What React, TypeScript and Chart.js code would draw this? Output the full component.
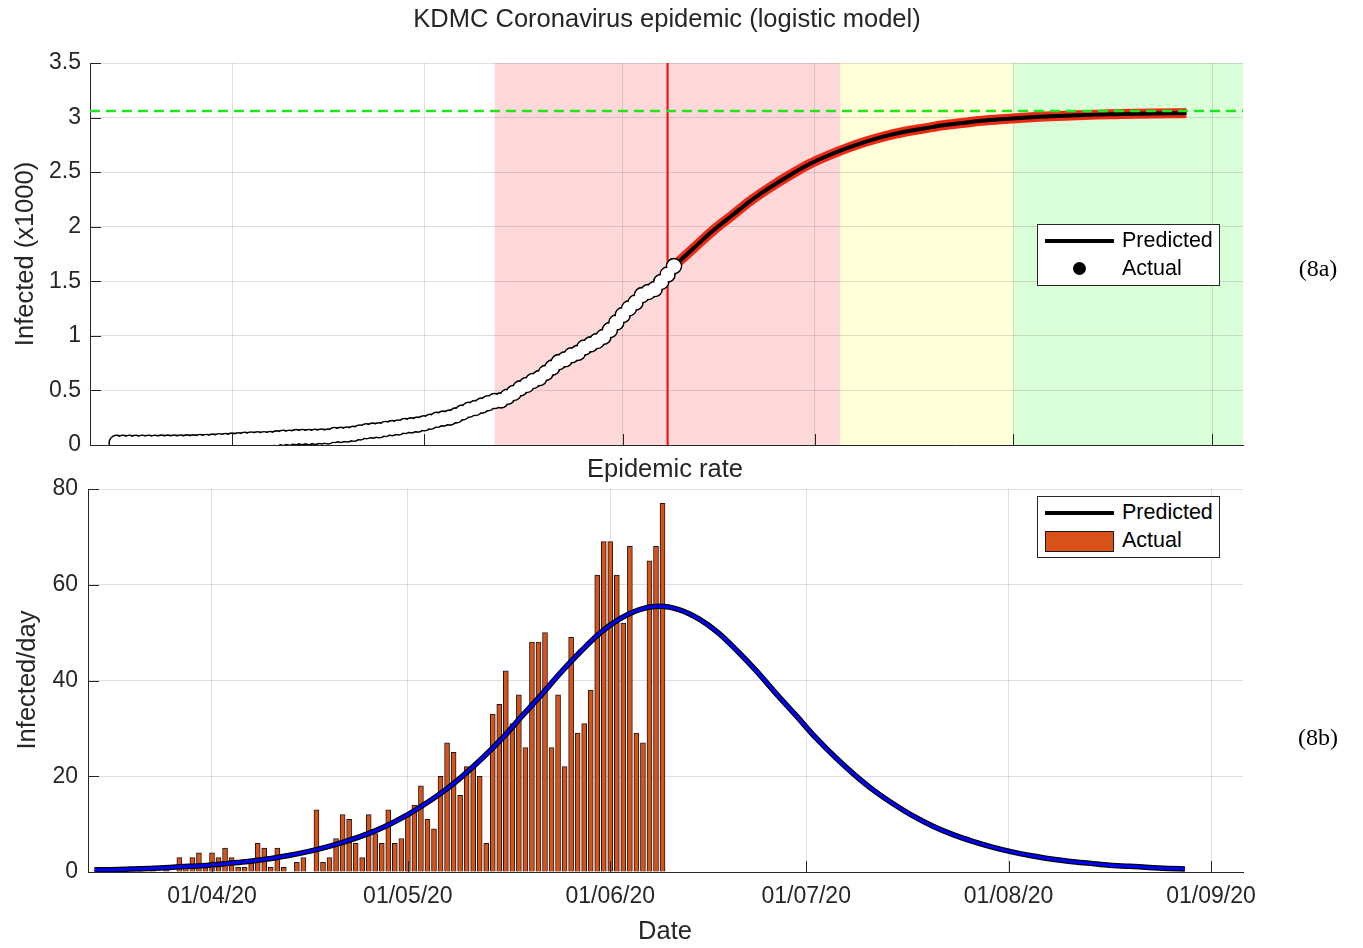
import React, { useEffect, useRef } from "react";
import { Chart, registerables } from "chart.js";

Chart.register(...registerables);

// Day numbers: days since 1 March 2020 (31 = 01/04/20)
const firstDataDay = 13; // 14 March 2020

// Daily new infections (bars), one per day from firstDataDay
const dailyCases = [
  0, 0, 0, 0, 1, 0, 0, 1, 0, 1, 0, 1, 0,
  3, 1, 3, 4, 1, 4, 3, 5, 3, 1, 1, 2, 6, 5, 1, 5, 1, 0, 2, 3, 0,
  13, 2, 3, 7, 12, 11, 6, 3, 12, 8, 6, 13,
  6, 7, 12, 14, 18, 11, 9, 20, 27, 25, 16, 22, 22, 20, 6, 33, 35, 42, 31, 37,
  26, 48, 48, 50, 26, 37, 22, 49, 29, 31, 38, 62, 69, 69, 62, 52, 68, 29, 27, 65, 68, 77,
];

// Cumulative infected (persons), one per day from firstDataDay
const cumulativeCases = [
  20, 20, 20, 20, 21, 21, 21, 22, 22, 23, 23, 24, 24,
  27, 28, 31, 35, 36, 40, 43, 48, 51, 52, 53, 55, 61, 66, 67, 72, 73, 73, 75, 78, 78,
  91, 93, 96, 103, 115, 126, 132, 135, 147, 155, 161, 174,
  180, 187, 199, 213, 231, 242, 251, 271, 298, 323, 339, 361, 383, 403, 409, 442, 477, 519, 550, 587,
  613, 661, 709, 759, 785, 822, 844, 893, 922, 953, 991, 1053, 1122, 1191, 1253, 1305, 1373, 1402, 1429, 1494, 1562, 1639,
];

// Predicted cumulative (x1000)
const predictedCumDays = [100, 103, 106, 109, 112, 115, 118, 121, 124, 127, 130, 133, 136, 139, 142, 145, 148, 151, 154, 157, 160, 163, 166, 169, 172, 175, 178, 180];
const predictedCumThousands = [
  1.64, 1.8, 1.96, 2.1, 2.24, 2.36, 2.47, 2.57, 2.65, 2.72, 2.78, 2.83, 2.87, 2.9,
  2.93, 2.95, 2.97, 2.985, 2.997, 3.007, 3.015, 3.022, 3.027, 3.031, 3.035, 3.038, 3.04, 3.041,
];

// Predicted epidemic rate (infected/day)
const predictedRateDays = [
  13, 15.5, 18.5, 21.5, 24.5, 27.5, 30.5, 33.5, 36.5, 39.5, 42.5, 45.5, 48.5, 51.5, 54.5, 57.5, 60.5, 63.5, 66.5, 69.5,
  72.5, 75.5, 78.5, 81.5, 84.5, 87.5, 90.5, 93.5, 96.5, 99.5, 102.5, 105.5, 108.5, 111.5, 114.5, 117.5, 120.5, 123.5,
  126.5, 129.5, 132.5, 135.5, 138.5, 141.5, 144.5, 147.5, 150.5, 153.5, 156.5, 159.5, 162.5, 165.5, 168.5, 171.5, 174.5, 177.5, 180,
];
const predictedRate = [
  0.45, 0.49, 0.61, 0.75, 0.94, 1.2, 1.4, 1.8, 2.2, 2.7, 3.4, 4.2, 5.2, 6.4, 7.8, 9.5, 11.6, 14.1, 16.9, 20.2,
  23.9, 28.0, 32.6, 37.1, 41.8, 46.1, 50.0, 52.9, 54.8, 55.5, 54.8, 52.9, 50.0, 46.1, 41.8, 37.1, 32.6, 28.0,
  23.9, 20.2, 16.9, 14.1, 11.6, 9.5, 7.8, 6.4, 5.2, 4.2, 3.4, 2.7, 2.2, 1.8, 1.4, 1.2, 0.94, 0.75, 0.63,
];

const monthTickDays = [31, 61, 92, 122, 153, 184];
const monthTickLabels = ["01/04/20", "01/05/20", "01/06/20", "01/07/20", "01/08/20", "01/09/20"];

const phaseBoundaryDays = [72, 126, 153];
const todayDay = 99;
const plateauThousands = 3.06;

const topXRange = [8.83, 188.83];
const bottomXRange = [12.01, 188.9];

const phaseColors = ["rgb(255,217,217)", "rgb(255,255,217)", "rgb(217,255,217)"];
const TEXT = "#262626";
const FONT = "'Liberation Sans', Arial, Helvetica, sans-serif";

const bandsPlugin = {
  id: "bands",
  beforeDraw(chart: any) {
    const opts = chart.options.plugins.bands;
    if (!opts || !opts.enabled) return;
    const { ctx, chartArea, scales } = chart;
    const x = scales.x;
    ctx.save();
    for (let i = 0; i < phaseBoundaryDays.length; i++) {
      const x0 = x.getPixelForValue(phaseBoundaryDays[i]);
      const x1 = i + 1 < phaseBoundaryDays.length ? x.getPixelForValue(phaseBoundaryDays[i + 1]) : chartArea.right;
      ctx.fillStyle = phaseColors[i];
      ctx.fillRect(x0, chartArea.top, x1 - x0, chartArea.bottom - chartArea.top);
    }
    ctx.restore();
  },
};

const innerTicksPlugin = {
  id: "innerTicks",
  afterDraw(chart: any) {
    const { ctx, chartArea, scales } = chart;
    ctx.save();
    ctx.strokeStyle = TEXT;
    ctx.lineWidth = 1;
    ctx.beginPath();
    scales.x.ticks.forEach((t: any) => {
      const px = Math.round(scales.x.getPixelForValue(t.value)) + 0.5;
      ctx.moveTo(px, chartArea.bottom);
      ctx.lineTo(px, chartArea.bottom - 11);
    });
    scales.y.ticks.forEach((t: any) => {
      const py = Math.round(scales.y.getPixelForValue(t.value)) + 0.5;
      ctx.moveTo(chartArea.left, py);
      ctx.lineTo(chartArea.left + 11, py);
    });
    ctx.stroke();
    ctx.restore();
  },
};

const gridColor = "rgba(38,38,38,0.15)";

function TopChart() {
  const ref = useRef<HTMLCanvasElement>(null);
  useEffect(() => {
    const actualPoints = cumulativeCases.map((v, i) => ({ x: firstDataDay + i, y: v / 1000 }));
    const predPoints = predictedCumDays.map((d, i) => ({ x: d, y: predictedCumThousands[i] }));
    const chart = new Chart(ref.current as HTMLCanvasElement, {
      type: "line",
      data: {
        datasets: [
          {
            data: [
              { x: topXRange[0], y: plateauThousands },
              { x: topXRange[1], y: plateauThousands },
            ],
            borderColor: "rgb(30,230,30)",
            borderWidth: 2.5,
            borderDash: [10, 6],
            pointRadius: 0,
            order: 0,
          },
          {
            // white fill pass hiding the inner marker outlines
            data: actualPoints,
            showLine: false,
            pointRadius: 6.6,
            pointBackgroundColor: "#ffffff",
            pointBorderWidth: 0,
            pointBorderColor: "rgba(0,0,0,0)",
            order: 1,
          },
          {
            data: actualPoints,
            showLine: false,
            pointRadius: 7.5,
            pointBackgroundColor: "#ffffff",
            pointBorderColor: "#000000",
            pointBorderWidth: 1.6,
            order: 2,
          },
          {
            data: [
              { x: todayDay, y: 0 },
              { x: todayDay, y: 3.5 },
            ],
            borderColor: "#ff0000",
            borderWidth: 2,
            pointRadius: 0,
            order: 3,
          },
          {
            data: predPoints,
            borderColor: "#000000",
            borderWidth: 4,
            pointRadius: 0,
            cubicInterpolationMode: "monotone",
            order: 4,
          },
          {
            data: predPoints,
            borderColor: "rgb(240,40,20)",
            borderWidth: 10,
            pointRadius: 0,
            cubicInterpolationMode: "monotone",
            order: 5,
          },
        ],
      },
      options: {
        responsive: false,
        animation: false,
        events: [],
        layout: { autoPadding: false, padding: { left: 0, right: 120, top: 63, bottom: 0 } },
        plugins: { legend: { display: false }, tooltip: { enabled: false }, bands: { enabled: true } } as any,
        scales: {
          x: {
            type: "linear",
            min: topXRange[0],
            max: topXRange[1],
            offset: false,
            afterBuildTicks: (s: any) => {
              s.ticks = monthTickDays.map((v) => ({ value: v }));
            },
            afterFit: (s: any) => {
              s.height = 23;
            },
            ticks: { display: false },
            grid: { color: gridColor, drawTicks: false, offset: false },
            border: { display: true, color: TEXT, width: 1 },
          },
          y: {
            type: "linear",
            min: 0,
            max: 3.5,
            afterFit: (s: any) => {
              s.width = 90;
            },
            ticks: {
              stepSize: 0.5,
              padding: 9,
              color: TEXT,
              font: { family: FONT, size: 23 },
              callback: (v: any) => String(Math.round(Number(v) * 10) / 10),
            },
            grid: { color: gridColor, drawTicks: false },
            border: { display: true, color: TEXT, width: 1 },
          },
        },
      } as any,
      plugins: [bandsPlugin, innerTicksPlugin],
    });
    return () => chart.destroy();
  }, []);
  return <canvas ref={ref} width={1363} height={468} style={{ position: "absolute", left: 0, top: 0 }} />;
}

function BottomChart() {
  const ref = useRef<HTMLCanvasElement>(null);
  useEffect(() => {
    const barPoints = dailyCases.map((v, i) => ({ x: firstDataDay + i, y: v }));
    const ratePoints = predictedRateDays.map((d, i) => ({ x: d, y: predictedRate[i] }));
    const chart = new Chart(ref.current as HTMLCanvasElement, {
      type: "bar",
      data: {
        datasets: [
          {
            type: "line",
            data: ratePoints,
            borderColor: "#0000ff",
            borderWidth: 3,
            pointRadius: 0,
            cubicInterpolationMode: "monotone",
            order: 1,
          },
          {
            type: "line",
            data: ratePoints,
            borderColor: "#000000",
            borderWidth: 5.5,
            pointRadius: 0,
            cubicInterpolationMode: "monotone",
            order: 2,
          },
          {
            type: "bar",
            data: barPoints,
            backgroundColor: "rgb(217,83,25)",
            borderColor: "#1a1a1a",
            borderWidth: 1,
            barThickness: 5,
            order: 3,
          },
        ],
      } as any,
      options: {
        responsive: false,
        animation: false,
        events: [],
        layout: { autoPadding: false, padding: { left: 0, right: 120, top: 29, bottom: 0 } },
        plugins: { legend: { display: false }, tooltip: { enabled: false } },
        scales: {
          x: {
            type: "linear",
            min: bottomXRange[0],
            max: bottomXRange[1],
            offset: false,
            afterBuildTicks: (s: any) => {
              s.ticks = monthTickDays.map((v) => ({ value: v }));
            },
            afterFit: (s: any) => {
              s.height = 76;
            },
            ticks: {
              autoSkip: false,
              maxRotation: 0,
              padding: 11,
              color: TEXT,
              font: { family: FONT, size: 23 },
              callback: (_v: any, i: number) => monthTickLabels[i],
            },
            grid: { color: gridColor, drawTicks: false, offset: false },
            border: { display: true, color: TEXT, width: 1 },
          },
          y: {
            type: "linear",
            min: 0,
            max: 80,
            afterFit: (s: any) => {
              s.width = 88;
            },
            ticks: { stepSize: 20, padding: 10, color: TEXT, font: { family: FONT, size: 23 } },
            grid: { color: gridColor, drawTicks: false },
            border: { display: true, color: TEXT, width: 1 },
          },
        },
      } as any,
      plugins: [innerTicksPlugin],
    });
    return () => chart.destroy();
  }, []);
  return <canvas ref={ref} width={1363} height={488} style={{ position: "absolute", left: 0, top: 460 }} />;
}

const textBase: React.CSSProperties = {
  position: "absolute",
  fontFamily: FONT,
  color: TEXT,
  whiteSpace: "nowrap",
  lineHeight: 1,
};

function Label(props: { x: number; y: number; size: number; rotate?: boolean; serif?: boolean; text: string; color?: string }) {
  return (
    <div
      style={{
        ...textBase,
        left: props.x,
        top: props.y,
        fontSize: props.size,
        fontFamily: props.serif ? "'Liberation Serif', 'Times New Roman', serif" : FONT,
        color: props.color || TEXT,
        transform: `translate(-50%, -50%)${props.rotate ? " rotate(-90deg)" : ""}`,
      }}
    >
      {props.text}
    </div>
  );
}

function LegendBox(props: { top: number; bar: boolean }) {
  const { top, bar } = props;
  return (
    <div
      style={{
        position: "absolute",
        left: 1037,
        top,
        width: 181,
        height: 60,
        background: "#ffffff",
        border: `1px solid ${TEXT}`,
      }}
    >
      <div style={{ position: "absolute", left: 7, top: 14, width: 69, height: 4, background: "#000" }} />
      <div style={{ ...textBase, left: 84, top: 16, fontSize: 21.5, transform: "translateY(-50%)", color: "#000" }}>Predicted</div>
      {bar ? (
        <div
          style={{
            position: "absolute",
            left: 7,
            top: 34,
            width: 67,
            height: 19,
            background: "rgb(217,83,25)",
            border: "1px solid #1a1a1a",
          }}
        />
      ) : (
        <div
          style={{
            position: "absolute",
            left: 35,
            top: 37,
            width: 13,
            height: 13,
            borderRadius: "50%",
            background: "#000",
          }}
        />
      )}
      <div style={{ ...textBase, left: 84, top: 44, fontSize: 21.5, transform: "translateY(-50%)", color: "#000" }}>Actual</div>
    </div>
  );
}

export default function App() {
  return (
    <div
      style={{
        position: "absolute",
        left: 0,
        top: 0,
        width: 1363,
        height: 948,
        background: "#ffffff",
        overflow: "hidden",
      }}
    >
      <TopChart />
      <BottomChart />
      <Label x={667} y={19} size={25.5} text="KDMC Coronavirus epidemic (logistic model)" />
      <Label x={665} y={469} size={25.5} text="Epidemic rate" />
      <Label x={25} y={254} size={25.5} rotate text="Infected (x1000)" />
      <Label x={27} y={680} size={25.5} rotate text="Infected/day" />
      <Label x={665} y={931} size={25.5} text="Date" />
      <Label x={1318} y={268} size={24} serif text="(8a)" color="#000" />
      <Label x={1318} y={737} size={24} serif text="(8b)" color="#000" />
      <LegendBox top={224} bar={false} />
      <LegendBox top={496} bar={true} />
    </div>
  );
}
